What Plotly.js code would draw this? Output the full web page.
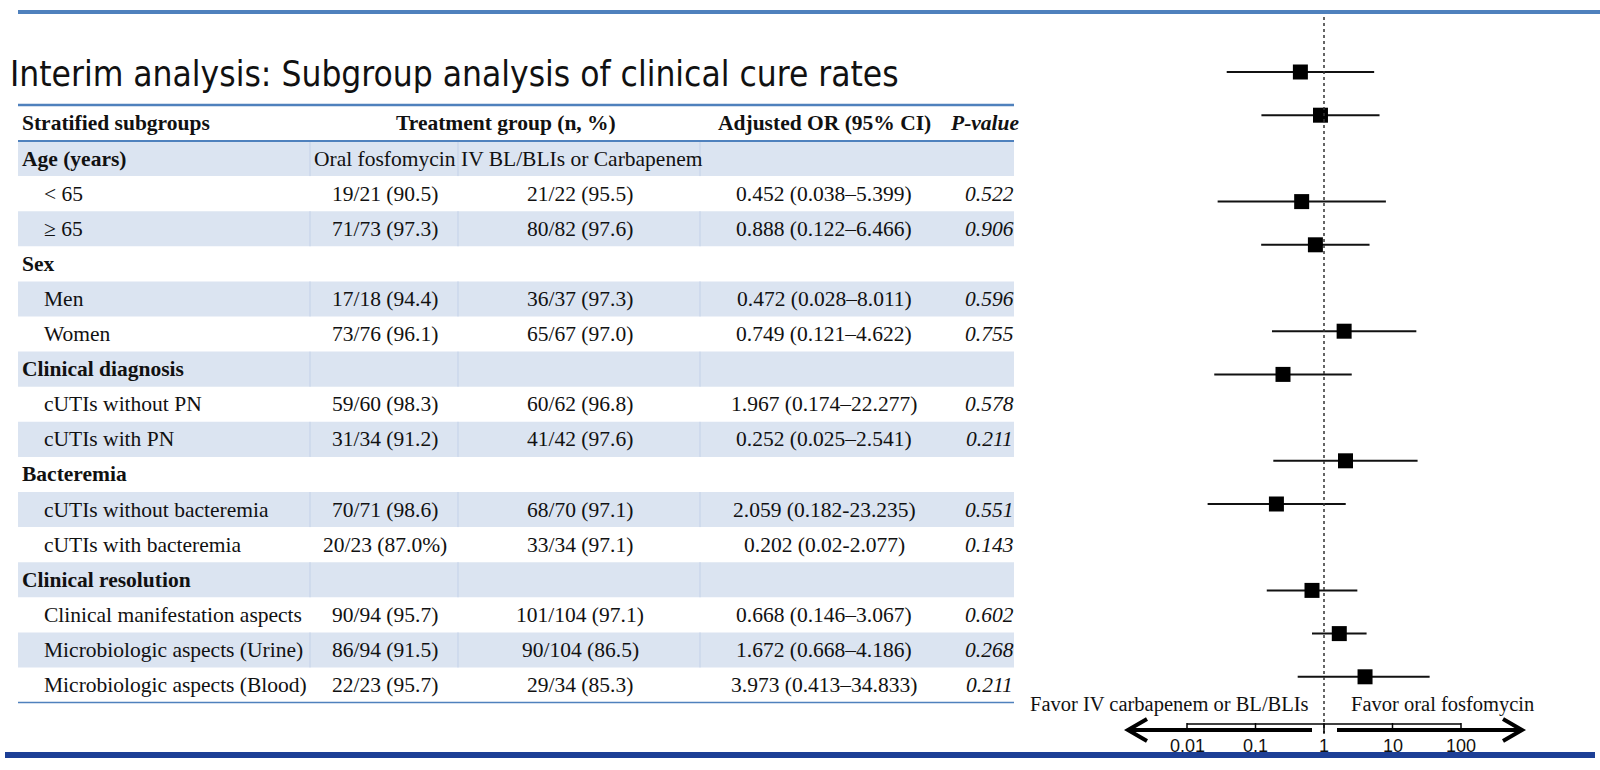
<!DOCTYPE html>
<html>
<head>
<meta charset="utf-8">
<script src="https://cdn.plot.ly/plotly-3.0.1.min.js"></script>
<style>html,body{margin:0;padding:0;background:#fff;}#chart{width:1600px;height:770px;}</style>
</head>
<body>
<div id="chart"></div>
<script>
// ---------------- data ----------------
const chartTitle = 'Interim analysis: Subgroup analysis of clinical cure rates';
const headers = ['Stratified subgroups', 'Treatment group (n, %)', 'Adjusted OR (95% CI)', 'P-value'];
const armLabels = ['Oral fosfomycin', 'IV BL/BLIs or Carbapenem'];
const groupNames = ['Age (years)', 'Sex', 'Clinical diagnosis', 'Bacteremia', 'Clinical resolution'];
const groupSizes = [2, 2, 2, 2, 3];
const subgroupNames = ['< 65', '\u2265 65', 'Men', 'Women', 'cUTIs without PN', 'cUTIs with PN',
  'cUTIs without bacteremia', 'cUTIs with bacteremia', 'Clinical manifestation aspects',
  'Microbiologic aspects (Urine)', 'Microbiologic aspects (Blood)'];
const fosfomycin = ['19/21 (90.5)', '71/73 (97.3)', '17/18 (94.4)', '73/76 (96.1)', '59/60 (98.3)', '31/34 (91.2)',
  '70/71 (98.6)', '20/23 (87.0%)', '90/94 (95.7)', '86/94 (91.5)', '22/23 (95.7)'];
const ivBL = ['21/22 (95.5)', '80/82 (97.6)', '36/37 (97.3)', '65/67 (97.0)', '60/62 (96.8)', '41/42 (97.6)',
  '68/70 (97.1)', '33/34 (97.1)', '101/104 (97.1)', '90/104 (86.5)', '29/34 (85.3)'];
const orText = ['0.452 (0.038\u20135.399)', '0.888 (0.122\u20136.466)', '0.472 (0.028\u20138.011)', '0.749 (0.121\u20134.622)',
  '1.967 (0.174\u201322.277)', '0.252 (0.025\u20132.541)', '2.059 (0.182-23.235)', '0.202 (0.02-2.077)',
  '0.668 (0.146\u20133.067)', '1.672 (0.668\u20134.186)', '3.973 (0.413\u201334.833)'];
const pValues = ['0.522', '0.906', '0.596', '0.755', '0.578', '0.211', '0.551', '0.143', '0.602', '0.268', '0.211'];
const orEst = [0.452, 0.888, 0.472, 0.749, 1.967, 0.252, 2.059, 0.202, 0.668, 1.672, 3.973];
const ciLow = [0.038, 0.122, 0.028, 0.121, 0.174, 0.025, 0.182, 0.02, 0.146, 0.668, 0.413];
const ciHigh = [5.399, 6.466, 8.011, 4.622, 22.277, 2.541, 23.235, 2.077, 3.067, 4.186, 34.833];
const axisTicks = [0.01, 0.1, 1, 10, 100];
const axisTickText = ['0.01', '0.1', '1', '10', '100'];
const favorLabels = ['Favor IV carbapenem or BL/BLIs', 'Favor oral fosfomycin'];

// ---------------- layout helpers ----------------
const W = 1600, H = 770;
const X = px => px / W;
const Y = py => 1 - py / H;
const serif = 'Liberation Serif, Times New Roman, serif';
const tfont = {family: serif, size: 21.5, color: '#111'};

// table geometry
const tblL = 18, tblR = 1014, hdrTop = 105, hdrBot = 141, rowH = 35.1;
const colSep = [310, 458, 700];
const col2C = 385, col3C = 580, col4C = 824, col5C = 989;
// forest geometry
const decadePx = 68.5, onePx = 1324;
const slotTop = 72, slotH = 43.2;
const axisY = 730;

// build table rows and forest slots from group structure
const rows = [];
const slots = [];
let k = 0, slot = 0;
groupNames.forEach((g, gi) => {
  if (gi > 0) slot += 1;
  rows.push({label: g, header: true, idx: -1});
  for (let j = 0; j < groupSizes[gi]; j++) {
    rows.push({label: subgroupNames[k], header: false, idx: k});
    slots.push(slot);
    slot += 1; k += 1;
  }
});

const shapes = [];
const annotations = [];

// page lines
shapes.push({type: 'line', xref: 'paper', yref: 'paper', x0: X(18), x1: X(1600), y0: Y(12), y1: Y(12),
  line: {color: '#4f81bd', width: 4}});
shapes.push({type: 'line', xref: 'paper', yref: 'paper', x0: X(5), x1: X(1595), y0: Y(755), y1: Y(755),
  line: {color: '#1d3f96', width: 6}});

// title
annotations.push({xref: 'paper', yref: 'paper', x: X(8), y: Y(74), xanchor: 'left', yanchor: 'middle',
  text: chartTitle, showarrow: false,
  font: {family: 'Liberation Sans Narrow, DejaVu Sans Condensed, Arial Narrow, sans-serif', size: 35, color: '#111'}});

// row shading & separators
rows.forEach((r, i) => {
  const top = hdrBot + rowH * i;
  if (i % 2 === 0) {
    shapes.push({type: 'rect', xref: 'paper', yref: 'paper', x0: X(tblL), x1: X(tblR), y0: Y(top), y1: Y(top + rowH),
      fillcolor: '#dbe4f1', line: {width: 0}, layer: 'below'});
    colSep.forEach(cx => shapes.push({type: 'line', xref: 'paper', yref: 'paper', x0: X(cx), x1: X(cx),
      y0: Y(top), y1: Y(top + rowH), line: {color: '#c3d1e8', width: 1}, layer: 'below'}));
  }
  const cy = Y(top + rowH / 2);
  annotations.push({xref: 'paper', yref: 'paper', x: X(r.header ? 20 : 42), y: cy, xanchor: 'left', yanchor: 'middle',
    text: r.header ? '<b>' + r.label + '</b>' : r.label, showarrow: false, font: tfont});
  if (!r.header) {
    const d = r.idx;
    [[fosfomycin[d], col2C], [ivBL[d], col3C], [orText[d], col4C]].forEach(([t, cx]) =>
      annotations.push({xref: 'paper', yref: 'paper', x: X(cx), y: cy, xanchor: 'center', yanchor: 'middle',
        text: t, showarrow: false, font: tfont}));
    annotations.push({xref: 'paper', yref: 'paper', x: X(col5C), y: cy, xanchor: 'center', yanchor: 'middle',
      text: '<i>' + pValues[d] + '</i>', showarrow: false, font: tfont});
  }
  if (i === 0) {
    annotations.push({xref: 'paper', yref: 'paper', x: X(312), y: cy, xanchor: 'left', yanchor: 'middle',
      text: armLabels[0], showarrow: false, font: tfont});
    annotations.push({xref: 'paper', yref: 'paper', x: X(459), y: cy, xanchor: 'left', yanchor: 'middle',
      text: armLabels[1], showarrow: false, font: tfont});
  }
});

// header row
const hy = Y((hdrTop + hdrBot) / 2);
annotations.push({xref: 'paper', yref: 'paper', x: X(20), y: hy, xanchor: 'left', yanchor: 'middle',
  text: '<b>' + headers[0] + '</b>', showarrow: false, font: tfont});
annotations.push({xref: 'paper', yref: 'paper', x: X(506), y: hy, xanchor: 'center', yanchor: 'middle',
  text: '<b>' + headers[1] + '</b>', showarrow: false, font: tfont});
annotations.push({xref: 'paper', yref: 'paper', x: X(col4C), y: hy, xanchor: 'center', yanchor: 'middle',
  text: '<b>' + headers[2] + '</b>', showarrow: false, font: tfont});
annotations.push({xref: 'paper', yref: 'paper', x: X(985), y: hy, xanchor: 'center', yanchor: 'middle',
  text: '<b><i>' + headers[3] + '</i></b>', showarrow: false, font: tfont});

// table rules
const tableBottom = hdrBot + rowH * rows.length;
[[hdrTop, 2.5], [hdrBot, 2], [tableBottom, 1.5]].forEach(([yy, w]) =>
  shapes.push({type: 'line', xref: 'paper', yref: 'paper', x0: X(tblL), x1: X(tblR), y0: Y(yy), y1: Y(yy),
    line: {color: '#4f81bd', width: w}}));

// ---------------- forest axis decorations ----------------
// dotted reference line at OR = 1
shapes.push({type: 'line', xref: 'x', yref: 'paper', x0: 1, x1: 1, y0: Y(17), y1: Y(axisY + 5),
  line: {color: '#333', width: 1.5, dash: 'dot'}});
// thin bracket line with decade ticks
shapes.push({type: 'line', xref: 'x', yref: 'paper', x0: axisTicks[0], x1: axisTicks[axisTicks.length - 1],
  y0: Y(axisY - 6), y1: Y(axisY - 6), line: {color: '#000', width: 1.5}});
axisTicks.forEach((v, i) => {
  shapes.push({type: 'line', xref: 'x', yref: 'paper', x0: v, x1: v, y0: Y(axisY - 7), y1: Y(v === 1 ? axisY + 3 : axisY),
    line: {color: '#000', width: 1.5}});
  annotations.push({xref: 'x', yref: 'paper', x: Math.log10(v), y: Y(746), xanchor: 'center', yanchor: 'middle',
    text: axisTickText[i], showarrow: false, font: {family: 'Liberation Sans, Arial, sans-serif', size: 18, color: '#111'}});
});
// thick arrows
shapes.push({type: 'line', xref: 'paper', yref: 'paper', x0: X(1129), x1: X(1312), y0: Y(axisY), y1: Y(axisY),
  line: {color: '#000', width: 4}});
shapes.push({type: 'line', xref: 'paper', yref: 'paper', x0: X(1337), x1: X(1521), y0: Y(axisY), y1: Y(axisY),
  line: {color: '#000', width: 4}});
shapes.push({type: 'path', xref: 'paper', yref: 'paper',
  path: `M ${X(1147)},${Y(axisY - 11)} L ${X(1128)},${Y(axisY)} L ${X(1147)},${Y(axisY + 11)}`, line: {color: '#000', width: 4}});
shapes.push({type: 'path', xref: 'paper', yref: 'paper',
  path: `M ${X(1503)},${Y(axisY - 11)} L ${X(1522)},${Y(axisY)} L ${X(1503)},${Y(axisY + 11)}`, line: {color: '#000', width: 4}});
// favor labels
annotations.push({xref: 'paper', yref: 'paper', x: X(1311), y: Y(704), xanchor: 'right', yanchor: 'middle',
  text: favorLabels[0], showarrow: false, font: {family: serif, size: 20.5, color: '#111'}});
annotations.push({xref: 'paper', yref: 'paper', x: X(1349), y: Y(704), xanchor: 'left', yanchor: 'middle',
  text: favorLabels[1], showarrow: false, font: {family: serif, size: 20.5, color: '#111'}});

// ---------------- forest trace ----------------
const forest = {
  type: 'scatter', mode: 'markers', x: orEst, y: slots, cliponaxis: false,
  marker: {symbol: 'square', size: 15, color: '#000'},
  error_x: {type: 'data', symmetric: false,
    array: orEst.map((v, i) => ciHigh[i] - v), arrayminus: orEst.map((v, i) => v - ciLow[i]),
    width: 0, thickness: 2, color: '#111'},
  hoverinfo: 'skip'
};

const layout = {
  width: W, height: H, margin: {l: 0, r: 0, t: 0, b: 0},
  paper_bgcolor: '#fff', plot_bgcolor: 'rgba(0,0,0,0)', showlegend: false,
  xaxis: {type: 'log', domain: [0, 1], range: [-onePx / decadePx, (W - onePx) / decadePx], visible: false, fixedrange: true},
  yaxis: {domain: [0, 1], range: [(H - slotTop) / slotH, -slotTop / slotH], visible: false, fixedrange: true},
  shapes: shapes, annotations: annotations
};

Plotly.newPlot('chart', [forest], layout, {staticPlot: true, displayModeBar: false});
</script>
</body>
</html>
